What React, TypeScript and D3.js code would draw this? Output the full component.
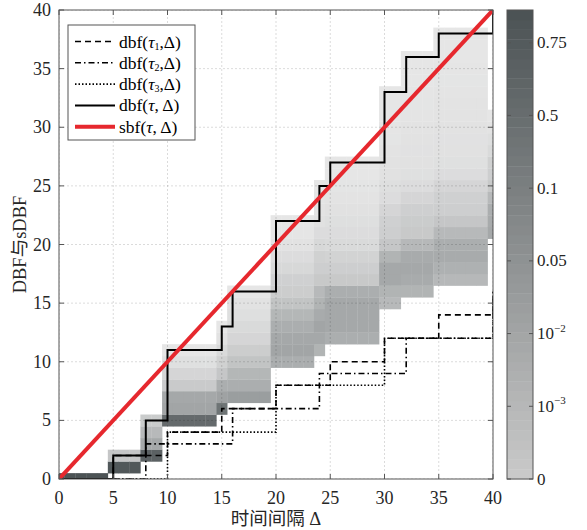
import React from 'react';
import * as d3 from 'd3';

const W = 587;
const H = 530;

// demand bound functions: breakpoints (Δ) and step values
const tau1Delta = [0, 5, 10, 15, 20, 25, 30, 35, 40];
const tau1Dbf = [0, 2, 4, 6, 8, 10, 12, 14, 16];
const tau2Delta = [0, 8, 16, 24, 32, 40];
const tau2Dbf = [0, 3, 6, 9, 12, 15];
const tau3Delta = [0, 10, 20, 30, 40];
const tau3Dbf = [0, 4, 8, 12, 16];
const totalDelta = [0, 5, 8, 10, 15, 16, 20, 24, 25, 30, 32, 35, 40];
const totalDbf = [0, 2, 5, 11, 13, 16, 22, 25, 27, 33, 36, 38, 47];
const sbfDelta = [0, 40];
const sbfValue = [0, 40];

// probability cells: Δ column groups, lowest demand row, probabilities going up
const cellFrom = [0, 5, 8, 10, 15, 16, 20, 24, 25, 30, 32, 35, 40];
const cellTo = [4, 7, 9, 14, 15, 19, 23, 24, 29, 31, 34, 39, 40];
const cellBase = [0, 1, 2, 5, 6, 7, 10, 11, 12, 15, 16, 17, 21];
const cellProb = [
  [0.85],
  [0.8, 0.005],
  [0.7, 0.04, 0.01, 0.003],
  [0.6, 0.045, 0.04, 0.0035, 0.0008, 0.00035, 0.0001],
  [0.5, 0.05, 0.03, 0.005, 0.001, 0.0006, 0.00025, 0.0001],
  [0.06, 0.03, 0.015, 0.006, 0.0025, 0.0008, 0.0006, 0.0004, 0.00025, 0.0001],
  [0.03, 0.045, 0.04, 0.03, 0.015, 0.006, 0.0025, 0.0012, 0.0007, 0.0005, 0.00025, 0.00012, 0.0001],
  [0.02, 0.04, 0.045, 0.035, 0.02, 0.01, 0.004, 0.002, 0.001, 0.0007, 0.0005, 0.0003, 0.0002, 0.00015, 0.0001],
  [0.03, 0.04, 0.04, 0.04, 0.03, 0.004, 0.002, 0.0009, 0.0006, 0.0005, 0.0004, 0.0003, 0.0002, 0.00015, 0.0001, 0.0001],
  [0.01, 0.02, 0.04, 0.04, 0.02, 0.005, 0.002, 0.0012, 0.0008, 0.0005, 0.0004, 0.0003, 0.00025, 0.0002, 0.00015, 0.00012, 0.0001, 0.0001, 0.0001],
  [0.02, 0.035, 0.04, 0.035, 0.012, 0.004, 0.003, 0.0015, 0.0008, 0.0005, 0.00035, 0.0003, 0.00028, 0.00025, 0.0002, 0.00018, 0.00015, 0.00012, 0.0001, 0.0001, 0.0001],
  [0.012, 0.025, 0.035, 0.03, 0.01, 0.005, 0.002, 0.0012, 0.0008, 0.0005, 0.00035, 0.0003, 0.00028, 0.00025, 0.00022, 0.0002, 0.00018, 0.00015, 0.00012, 0.0001, 0.0001, 0.0001],
  [0.04, 0.035, 0.03, 0.01, 0.004, 0.002, 0.001, 0.0006, 0.0004, 0.0002, 0.0001],
];

// colorbar
const cbTickValues = [0, 1e-3, 1e-2, 0.05, 0.1, 0.5, 0.75];
const cbTickBase = ['0', '10', '10', '0.05', '0.1', '0.5', '0.75'];
const cbTickExp = ['', '−3', '−2', '', '', '', ''];
const cbTopValue = 0.8625;

const axisTicks = [0, 5, 10, 15, 20, 25, 30, 35, 40];

const legendLabels = [
  { name: 'dbf', sub: '1', sep: ',' },
  { name: 'dbf', sub: '2', sep: ',' },
  { name: 'dbf', sub: '3', sep: ',' },
  { name: 'dbf', sub: '', sep: ', ' },
  { name: 'sbf', sub: '', sep: ', ' },
];

const FONT = "'Liberation Serif', 'Times New Roman', 'Noto Sans CJK SC', serif";

export default function App() {
  const x = d3.scaleLinear().domain([0, 40]).range([59, 493]);
  const y = d3.scaleLinear().domain([0, 40]).range([479, 10]);

  // probability -> colorbar index (piecewise, evenly spaced ticks)
  const toIndex = d3.scaleLinear().domain(cbTickValues).range(cbTickValues.map((_, i) => i));
  const topIndex = toIndex(cbTopValue);
  const cbY = d3.scaleLinear().domain([0, topIndex]).range([479, 10]);
  const cbColor = d3.scaleLinear<string>().domain([0, topIndex]).range(['#cacaca', '#4b5254']);
  const cellColor = d3.scaleLinear<string>().domain([0, topIndex]).range(['#e8e8e8', '#4b5254']).clamp(true);

  const stepLine = d3.line<[number, number]>()
    .x(d => x(d[0]))
    .y(d => y(d[1]))
    .curve(d3.curveStepAfter);
  const straight = d3.line<[number, number]>().x(d => x(d[0])).y(d => y(d[1]));

  const zip = (a: number[], b: number[]) => a.map((v, i) => [v, b[i]] as [number, number]);

  const cells: { d: number; r: number; p: number }[] = [];
  cellFrom.forEach((from, g) => {
    for (let d = from; d <= cellTo[g]; d++) {
      cellProb[g].forEach((p, k) => cells.push({ d, r: cellBase[g] + k, p }));
    }
  });

  const series = [
    { path: stepLine(zip(tau1Delta, tau1Dbf)), stroke: '#000', width: 1.6, dash: '6,4' },
    { path: stepLine(zip(tau2Delta, tau2Dbf)), stroke: '#000', width: 1.6, dash: '6,3,1.5,3' },
    { path: stepLine(zip(tau3Delta, tau3Dbf)), stroke: '#000', width: 1.6, dash: '1.5,2' },
    { path: stepLine(zip(totalDelta, totalDbf)), stroke: '#000', width: 2, dash: '' },
    { path: straight(zip(sbfDelta, sbfValue)), stroke: '#e6282e', width: 4, dash: '' },
  ];

  const bands = d3.range(0, 48).map(i => (i * topIndex) / 48);
  const bandH = (cbY(0) - cbY(topIndex)) / 48;

  const axisColor = '#555';
  const tickLen = 5;

  return (
    <svg width={W} height={H} style={{ position: 'absolute', left: 0, top: 0, background: '#fff' }} fontFamily={FONT}>
      <defs>
        <clipPath id="plot-clip">
          <rect x={x(0)} y={y(40)} width={x(40) - x(0)} height={y(0) - y(40)} />
        </clipPath>
      </defs>

      <g clipPath="url(#plot-clip)">
        {cells.map((c, i) => (
          <rect
            key={i}
            x={x(c.d - 0.5)}
            y={y(c.r + 0.5)}
            width={x(c.d + 0.5) - x(c.d - 0.5) + 0.3}
            height={y(c.r - 0.5) - y(c.r + 0.5) + 0.3}
            fill={cellColor(toIndex(c.p))}
          />
        ))}
        {axisTicks.map(t => (
          <g key={t} stroke="#000" strokeOpacity={0.18} strokeWidth={0.8} strokeDasharray="2,2">
            <line x1={x(t)} x2={x(t)} y1={y(0)} y2={y(40)} />
            <line x1={x(0)} x2={x(40)} y1={y(t)} y2={y(t)} />
          </g>
        ))}
        {series.map((s, i) => (
          <path key={i} d={s.path || ''} fill="none" stroke={s.stroke} strokeWidth={s.width}
            strokeDasharray={s.dash || undefined} />
        ))}
      </g>

      {/* axes box and ticks */}
      <rect x={x(0)} y={y(40)} width={x(40) - x(0)} height={y(0) - y(40)} fill="none" stroke={axisColor} strokeWidth={1} />
      {axisTicks.map(t => (
        <g key={t} stroke={axisColor} strokeWidth={1}>
          <line x1={x(t)} x2={x(t)} y1={y(0)} y2={y(0) - tickLen} />
          <line x1={x(t)} x2={x(t)} y1={y(40)} y2={y(40) + tickLen} />
          <line x1={x(0)} x2={x(0) + tickLen} y1={y(t)} y2={y(t)} />
          <line x1={x(40)} x2={x(40) - tickLen} y1={y(t)} y2={y(t)} />
        </g>
      ))}
      {axisTicks.map(t => (
        <text key={'xl' + t} x={x(t)} y={y(0) + 19} textAnchor="middle" dominantBaseline="central" fontSize={18} fill="#262626">{t}</text>
      ))}
      {axisTicks.map(t => (
        <text key={'yl' + t} x={x(0) - 8} y={y(t)} textAnchor="end" dominantBaseline="central" fontSize={18} fill="#262626">{t}</text>
      ))}

      <text x={(x(0) + x(40)) / 2} y={519} textAnchor="middle" dominantBaseline="central" fontSize={18.5} fill="#262626">时间间隔 Δ</text>
      <text transform={`translate(20,${(y(0) + y(40)) / 2}) rotate(-90)`} textAnchor="middle" dominantBaseline="central" fontSize={18.5} fill="#262626">DBF与sDBF</text>

      {/* legend */}
      <rect x={68} y={25} width={127} height={115} fill="#fff" stroke={axisColor} strokeWidth={1} />
      {legendLabels.map((l, i) => {
        const ly = 41.5 + i * 21.3;
        const s = series[i];
        return (
          <g key={i}>
            <line x1={75} x2={115} y1={ly} y2={ly} stroke={s.stroke} strokeWidth={s.width} strokeDasharray={s.dash || undefined} />
            <text x={119} y={ly} dominantBaseline="central" fontSize={17.5} fill="#000">
              {l.name}(<tspan fontStyle="italic">τ</tspan>
              {l.sub ? <tspan fontSize={10} dy={4}>{l.sub}</tspan> : null}
              <tspan dy={l.sub ? -4 : 0}>{l.sep}Δ)</tspan>
            </text>
          </g>
        );
      })}

      {/* colorbar */}
      <g>
        {bands.map((b, i) => (
          <rect key={i} x={507} y={cbY(b) - bandH} width={26} height={bandH + 0.4} fill={cbColor(b + topIndex / 96)} />
        ))}
        <rect x={507} y={cbY(topIndex)} width={26} height={cbY(0) - cbY(topIndex)} fill="none" stroke={axisColor} strokeWidth={1} />
        {cbTickValues.map((v, i) => {
          const ty = cbY(toIndex(v));
          return (
            <g key={i}>
              <line x1={533} x2={529} y1={ty} y2={ty} stroke={axisColor} strokeWidth={1} />
              <line x1={507} x2={511} y1={ty} y2={ty} stroke={axisColor} strokeWidth={1} />
              <text x={537} y={ty} dominantBaseline="central" fontSize={17} fill="#262626">
                {cbTickBase[i]}
                {cbTickExp[i] ? <tspan fontSize={11} dy={-6}>{cbTickExp[i]}</tspan> : null}
              </text>
            </g>
          );
        })}
      </g>
    </svg>
  );
}
